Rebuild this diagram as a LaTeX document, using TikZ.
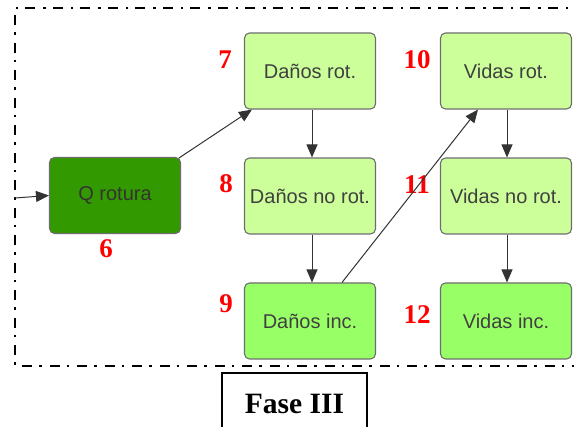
\documentclass[tikz,border=0pt]{standalone}
\usepackage{fontspec}
\setmainfont{Liberation Serif}
\setsansfont{Liberation Sans}
\usetikzlibrary{arrows.meta}
\definecolor{darkg}{HTML}{339900}
\definecolor{lightg}{HTML}{CCFF99}
\definecolor{midg}{HTML}{99FF66}
\definecolor{boxline}{HTML}{6E6E6E}
\tikzset{
  x=1pt, y=-1pt,
  stage/.style={draw=boxline, line width=1.1pt, rounded corners=5pt, minimum width=131pt, minimum height=76pt, inner sep=0pt,
    font=\sffamily\fontsize{20}{22}\selectfont, text=black!75},
  lightbox/.style={stage, fill=lightg},
  midbox/.style={stage, fill=midg},
  darkbox/.style={stage, fill=darkg, text=black!80},
  num/.style={inner sep=0pt, text=red, font=\rmfamily\bfseries\fontsize{27}{28}\selectfont},
  arr/.style={draw=black!80, line width=1pt, -{Triangle[length=13pt,width=11pt]}},
  frameline/.style={line width=2.4pt, dash pattern=on 10pt off 7pt on 2.5pt off 8pt},
  fasebox/.style={draw, line width=2pt, minimum width=145pt, minimum height=61pt, inner sep=0pt,
    font=\rmfamily\bfseries\fontsize{29.5}{31}\selectfont}
}
\begin{document}
\begin{tikzpicture}
\clip (0,0) rectangle (574,427);
\fill[white] (0,0) rectangle (574,427);
% frame
\draw[frameline] (585,8) -- (15,8) -- (15,366) -- (585,366);
\coordinate (inp) at (15,198);
% nodes
\node[darkbox] (q) at (115,195.5) {Q rotura};
\node[lightbox] (dr) at (310,71) {Daños rot.};
\node[lightbox] (dn) at (310,196) {Daños no rot.};
\node[midbox] (di) at (310,321) {Daños inc.};
\node[lightbox] (vr) at (506,71) {Vidas rot.};
\node[lightbox] (vn) at (506,196) {Vidas no rot.};
\node[midbox] (vi) at (506,321) {Vidas inc.};
% numbers
\node[num] (n6) at (106,249) {6};
\node[num] (n7) at (225,60) {7};
\node[num] (n8) at (226,184) {8};
\node[num] (n9) at (226,304) {9};
\node[num] (n10) at (417,60) {10};
\node[num] (n11) at (417,185) {11};
\node[num] (n12) at (417,315) {12};
% connectors
\draw[arr] (inp) -- (q.west);
\draw[arr] ([xshift=-2pt,yshift=-1pt]q.north east) -- ([xshift=8pt]dr.south west);
\draw[arr] ([xshift=2pt]dr.south) -- ([xshift=2pt]dn.north);
\draw[arr] ([xshift=2pt]dn.south) -- ([xshift=2pt]di.north);
\draw[arr] ([xshift=32pt]di.north) -- ([xshift=-28pt]vr.south);
\draw[arr] ([xshift=1pt]vr.south) -- ([xshift=1pt]vn.north);
\draw[arr] ([xshift=1pt]vn.south) -- ([xshift=1pt]vi.north);
% Fase label
\node[fasebox] (fase) at (294.5,403.5) {Fase III};
\end{tikzpicture}
\end{document}
